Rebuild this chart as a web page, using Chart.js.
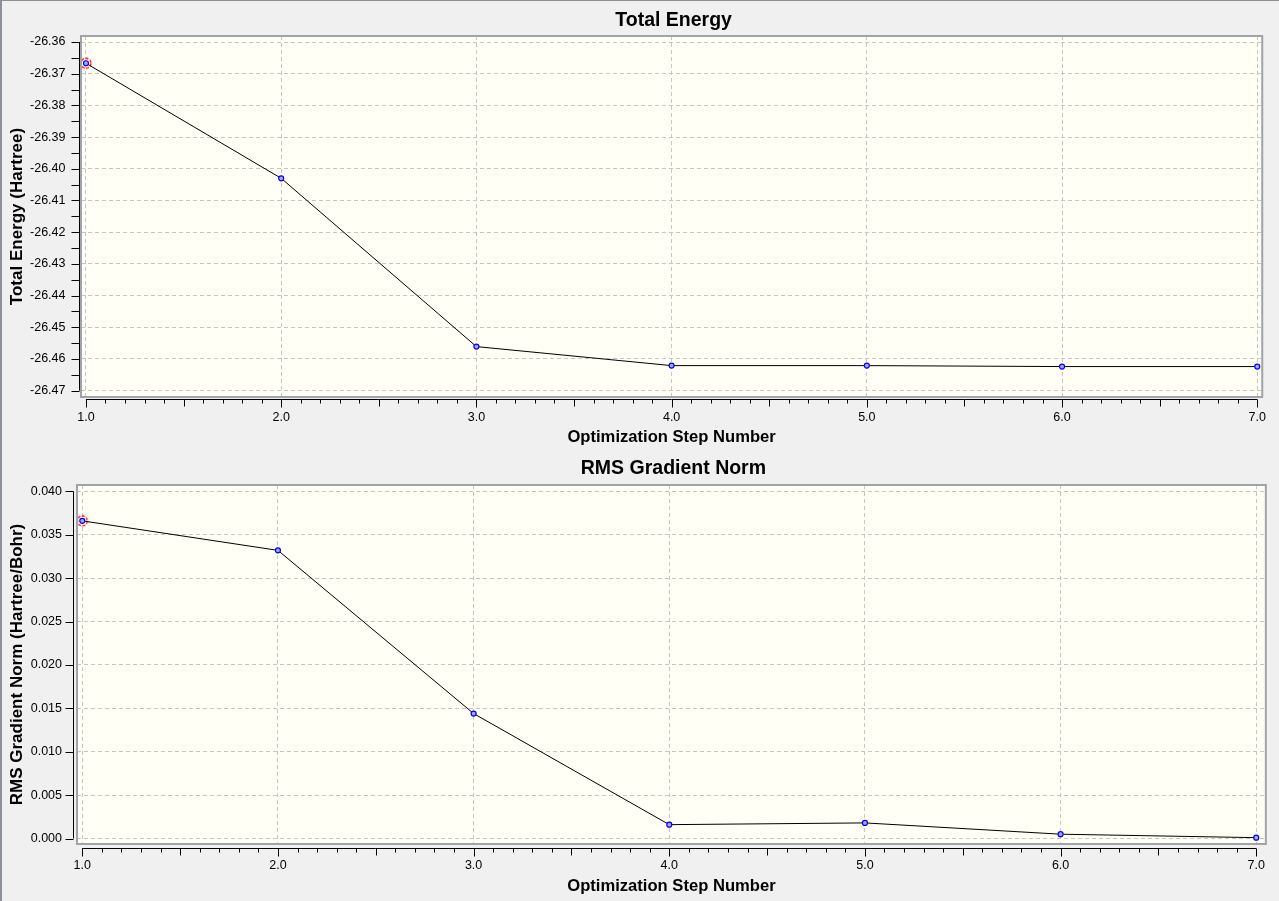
<!DOCTYPE html>
<html>
<head>
<meta charset="utf-8">
<title>Optimization</title>
<script src="https://cdn.jsdelivr.net/npm/chart.js@4.4.0/dist/chart.umd.min.js"></script>
<style>
    html, body { margin: 0; padding: 0; background: #f0f0f0; overflow: hidden; }
    #wrap { position: relative; width: 1279px; height: 901px; }
    #wrap canvas { position: absolute; left: 0; }
    #frame {
        position: absolute; left: 0; top: 0; width: 1279px; height: 901px;
        border-left: 2px solid #8b9099; border-top: 1px solid #8b9099;
        box-sizing: border-box; pointer-events: none;
    }
</style>
</head>
<body>
<div id="wrap">
    <canvas id="energyChart" width="1279" height="450" style="top:0"></canvas>
    <canvas id="gradChart" width="1279" height="451" style="top:450px"></canvas>
    <div id="frame"></div>
</div>
<script>
// --- Data ---
const stepNumbers = [1, 2, 3, 4, 5, 6, 7];
const totalEnergy = [-26.3667, -26.4030, -26.4561, -26.4621, -26.4621, -26.4624, -26.4624];
const rmsGradient = [0.0366, 0.0332, 0.0144, 0.0016, 0.0018, 0.0005, 0.0001];

// --- Tick labels ---
const stepTicks = [1, 2, 3, 4, 5, 6, 7];
const energyTicks = [-26.36, -26.37, -26.38, -26.39, -26.40, -26.41, -26.42, -26.43, -26.44, -26.45, -26.46, -26.47];
const gradientTicks = [0.000, 0.005, 0.010, 0.015, 0.020, 0.025, 0.030, 0.035, 0.040];

const FONT = '"Liberation Sans", Arial, sans-serif';
Chart.defaults.font.family = FONT;
Chart.defaults.color = '#000';

// dashed red ring for the selected point
function makeRing() {
    const c = document.createElement('canvas');
    c.width = 14; c.height = 14;
    const g = c.getContext('2d');
    g.strokeStyle = '#ff0000';
    g.lineWidth = 1.3;
    g.setLineDash([3, 1.5]);
    g.beginPath();
    g.arc(7, 7, 5, 0, Math.PI * 2);
    g.stroke();
    return c;
}
const ring = makeRing();

// --- Plot frame, axes with minor ticks, title ---
const plotFrame = {
    id: 'plotFrame',
    beforeDraw(chart, args, opts) {
        const { ctx, chartArea: a } = chart;
        ctx.save();
        ctx.fillStyle = '#fffff6';
        ctx.fillRect(a.left, a.top, a.right - a.left, a.bottom - a.top);
        ctx.restore();
    },
    afterDraw(chart, args, opts) {
        const { ctx, chartArea: a, scales: { x, y } } = chart;
        ctx.save();

        // plot border
        ctx.strokeStyle = '#a0a3a8';
        ctx.lineWidth = 2;
        ctx.strokeRect(a.left, a.top, a.right - a.left, a.bottom - a.top);

        // axis lines sit just outside the plot
        const ax = Math.round(a.left - opts.gapY) - 0.5;
        const ay = Math.round(a.bottom + opts.gapX) + 0.5;
        const xs = opts.xTicks, ys = opts.yTicks;
        const x0 = x.getPixelForValue(xs[0]), x1 = x.getPixelForValue(xs[xs.length - 1]);
        const y0 = y.getPixelForValue(Math.max(...ys)), y1 = y.getPixelForValue(Math.min(...ys));

        ctx.strokeStyle = '#000';
        ctx.lineWidth = 1;
        ctx.beginPath();
        ctx.moveTo(ax, y0); ctx.lineTo(ax, y1);
        ctx.moveTo(x0, ay); ctx.lineTo(x1, ay);

        // x ticks: major at whole steps, medium at .5, minor every .1
        for (let i = xs[0] * 10; i <= xs[xs.length - 1] * 10; i++) {
            const px = Math.round(x.getPixelForValue(i / 10)) + 0.5;
            const len = i % 10 === 0 ? 8 : (i % 5 === 0 ? 7 : 4);
            ctx.moveTo(px, ay); ctx.lineTo(px, ay + len);
        }
        // y ticks
        const step = Math.abs(ys[1] - ys[0]) / opts.yMinor;
        const n = (ys.length - 1) * opts.yMinor;
        const yMax = Math.max(...ys);
        for (let j = 0; j <= n; j++) {
            const py = Math.round(y.getPixelForValue(yMax - j * step)) + 0.5;
            ctx.moveTo(ax, py); ctx.lineTo(ax - 8, py);
        }
        ctx.stroke();

        // chart title centred over the plot
        ctx.fillStyle = '#000';
        ctx.font = 'bold 19.5px ' + FONT;
        ctx.textAlign = 'center';
        ctx.textBaseline = 'alphabetic';
        ctx.fillText(opts.title, (a.left + a.right) / 2 + 2, opts.titleY);
        ctx.restore();
    }
};

function buildChart(canvasId, cfg) {
    const points = stepNumbers.map((s, i) => ({ x: s, y: cfg.values[i] }));
    return new Chart(document.getElementById(canvasId), {
        type: 'line',
        data: {
            datasets: [{
                data: points,
                borderColor: '#000',
                borderWidth: 1,
                tension: 0,
                pointRadius: 2.5,
                pointBorderWidth: 1.2,
                pointBorderColor: '#0000ff',
                pointBackgroundColor: '#a9a9f5'
            }, {
                // selected point marker
                data: [points[0]],
                showLine: false,
                pointStyle: ring,
                pointRadius: 7
            }]
        },
        options: {
            responsive: false,
            devicePixelRatio: 1,
            animation: false,
            events: [],
            layout: { padding: { left: 0, top: cfg.top, right: cfg.right, bottom: 0 } },
            plugins: {
                legend: { display: false },
                tooltip: { enabled: false },
                plotFrame: {
                    title: cfg.title, titleY: cfg.titleY,
                    gapX: cfg.gapX, gapY: cfg.gapY,
                    xTicks: stepTicks, yTicks: cfg.ticks, yMinor: cfg.yMinor
                }
            },
            scales: {
                x: {
                    type: 'linear',
                    min: cfg.xMin, max: cfg.xMax,
                    afterBuildTicks: s => { s.ticks = stepTicks.map(v => ({ value: v })); },
                    afterFit: s => { s.height = cfg.xHeight; },
                    grid: { color: '#c6c6c6', lineWidth: 1, drawTicks: false },
                    border: { display: false, dash: [4, 3] },
                    ticks: {
                        padding: cfg.xPad,
                        font: { size: 12.5 },
                        maxRotation: 0,
                        autoSkip: false,
                        callback: v => v.toFixed(1)
                    },
                    title: {
                        display: true,
                        text: 'Optimization Step Number',
                        font: { size: 16.6, weight: 'bold' },
                        padding: { top: 0, bottom: cfg.xTitlePad }
                    }
                },
                y: {
                    type: 'linear',
                    min: cfg.yMin, max: cfg.yMax,
                    afterBuildTicks: s => { s.ticks = cfg.ticks.map(v => ({ value: v })); },
                    afterFit: s => { s.width = cfg.yWidth; },
                    grid: { color: '#c6c6c6', lineWidth: 1, drawTicks: false },
                    border: { display: false, dash: [4, 3] },
                    ticks: {
                        padding: cfg.yPad,
                        font: { size: 12.5 },
                        autoSkip: false,
                        callback: v => v.toFixed(cfg.digits)
                    },
                    title: {
                        display: true,
                        text: cfg.yTitle,
                        font: { size: 17, weight: 'bold' },
                        padding: { top: 6.8, bottom: 0 }
                    }
                }
            }
        },
        plugins: [plotFrame]
    });
}

buildChart('energyChart', {
    values: totalEnergy,
    ticks: energyTicks,
    digits: 2,
    title: 'Total Energy',
    yTitle: 'Total Energy (Hartree)',
    titleY: 25.5,
    top: 36, right: 12,
    xHeight: 53, yWidth: 81,
    xMin: 0.9745, xMax: 7.0255,
    yMin: -26.472, yMax: -26.3581,
    xPad: 13, yPad: 15.5, xTitlePad: 2.5,
    gapX: 2, gapY: 1.5, yMinor: 2
});

buildChart('gradChart', {
    values: rmsGradient,
    ticks: gradientTicks,
    digits: 3,
    title: 'RMS Gradient Norm',
    yTitle: 'RMS Gradient Norm (Hartree/Bohr)',
    titleY: 23.5,
    top: 35, right: 7,
    xHeight: 57, yWidth: 77,
    xMin: 0.973, xMax: 7.049,
    yMin: -0.00063, yMax: 0.04073,
    xPad: 14, yPad: 15, xTitlePad: 5,
    gapX: 3.5, gapY: 3, yMinor: 1
});
</script>
</body>
</html>
